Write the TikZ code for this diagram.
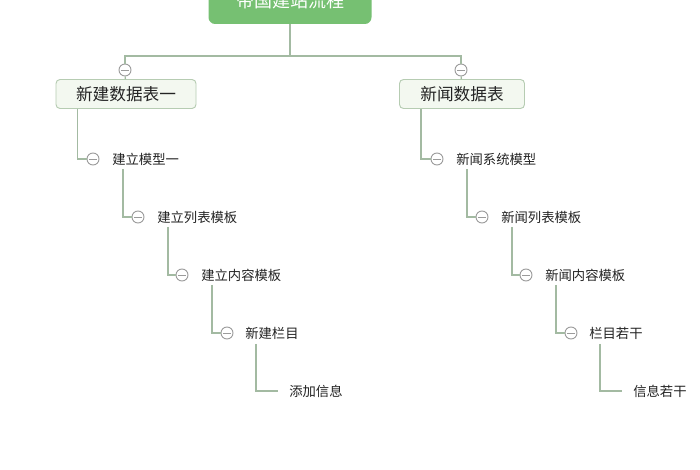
\documentclass[tikz,border=0pt]{standalone}
\usepackage{fontspec}
\setmainfont{Noto Sans CJK SC}
\usetikzlibrary{calc}
\definecolor{rootgreen}{RGB}{118,192,114}
\definecolor{boxfill}{RGB}{243,248,240}
\definecolor{boxborder}{RGB}{182,204,178}
\definecolor{linec}{RGB}{163,186,162}
\definecolor{toggray}{RGB}{155,155,155}
\definecolor{textc}{RGB}{35,35,35}
\begin{document}
\begin{tikzpicture}[x=0.75pt,y=-0.75pt,
  rootbox/.style={fill=rootgreen, rounded corners=5pt, minimum width=122.25pt, minimum height=34.5pt, inner sep=0pt, text=white, font=\fontsize{13.5}{16}\selectfont},
  lonebox/.style={draw=boxborder, fill=boxfill, rounded corners=3pt, minimum height=21.75pt, inner sep=0pt, line width=0.7pt, text=textc, font=\fontsize{12.5}{15}\selectfont},
  leaf/.style={anchor=west, inner ysep=0pt, inner xsep=0pt, text=textc, font=\fontsize{10}{12}\selectfont},
  lastleaf/.style={leaf, inner xsep=8.25pt},
  tog/.style={circle, draw=toggray, fill=white, minimum size=9pt, inner sep=0pt, line width=0.7pt,
    path picture={\draw[toggray, line width=0.7pt] ([xshift=-2.8pt]path picture bounding box.center) -- ([xshift=2.8pt]path picture bounding box.center);}},
  conn/.style={draw=linec, line width=0.95pt}]
\useasboundingbox (0,0) rectangle (700,470);
\fill[white] (0,0) rectangle (700,470);

% root
\node[rootbox] (root) at (290,1) {帝国建站流程};
\coordinate (bus) at (290,56);

% level 1
\node[tog] (tL) at (125,70) {};
\node[tog] (tR) at (461,70) {};
\node[lonebox, minimum width=105pt] (b1) at (126,94) {新建数据表一};
\node[lonebox, minimum width=93.75pt] (b2) at (462,94) {新闻数据表};

\draw[conn] (root.south) -- (bus);
\draw[conn] (tL.north) -- (tL.north |- bus) -- (tR.north |- bus) -- (tR.north);
\draw[conn] (tL) -- (b1);
\draw[conn] (tR) -- (b2);

% left branch
\node[tog] (lc1) at (93,159) {};
\node[leaf] (ln1) at (112,159) {建立模型一};
\node[tog] (lc2) at (138,217) {};
\node[leaf] (ln2) at (157,217) {建立列表模板};
\node[tog] (lc3) at (182,275) {};
\node[leaf] (ln3) at (201,275) {建立内容模板};
\node[tog] (lc4) at (227,333) {};
\node[leaf] (ln4) at (245,333) {新建栏目};
\node[lastleaf] (ln5) at (278,391) {添加信息};

\draw[conn] ($(b1.south west)+(22,0)$) |- (lc1);
\draw[conn] ($(ln1.west)+(11,10)$) |- (lc2);
\draw[conn] ($(ln2.west)+(11,10)$) |- (lc3);
\draw[conn] ($(ln3.west)+(11,10)$) |- (lc4);
\draw[conn] ($(ln4.west)+(11,11)$) |- (ln5);

% right branch
\node[tog] (rc1) at (437,159) {};
\node[leaf] (rn1) at (456,159) {新闻系统模型};
\node[tog] (rc2) at (482,217) {};
\node[leaf] (rn2) at (501,217) {新闻列表模板};
\node[tog] (rc3) at (526,275) {};
\node[leaf] (rn3) at (545,275) {新闻内容模板};
\node[tog] (rc4) at (571,333) {};
\node[leaf] (rn4) at (589,333) {栏目若干};
\node[lastleaf] (rn5) at (622,391) {信息若干};

\draw[conn] ($(b2.south west)+(22,0)$) |- (rc1);
\draw[conn] ($(rn1.west)+(11,10)$) |- (rc2);
\draw[conn] ($(rn2.west)+(11,10)$) |- (rc3);
\draw[conn] ($(rn3.west)+(11,10)$) |- (rc4);
\draw[conn] ($(rn4.west)+(11,11)$) |- (rn5);
\end{tikzpicture}
\end{document}
